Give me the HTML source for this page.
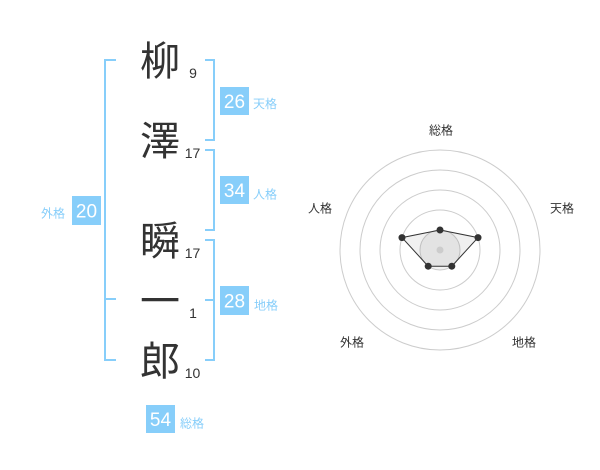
<!DOCTYPE html>
<html>
<head>
<meta charset="utf-8">
<style>
  html, body { margin:0; padding:0; background:#fff; }
  body { width:600px; height:470px; overflow:hidden; }
  svg { display:block; }
  .cjk { font-family: "Liberation Sans", "Noto Sans CJK JP", sans-serif; }
  .num { font-family: "Liberation Sans", sans-serif; }
</style>
</head>
<body>
<svg width="600" height="470" viewBox="0 0 600 470" xmlns="http://www.w3.org/2000/svg">
  <!-- brackets -->
  <g fill="none" stroke="#87cefa" stroke-width="2">
    <path d="M116,60 H105 V360 H116"/>
    <path d="M105,299 H116"/>
    <path d="M205,60 H214 V140 H205"/>
    <path d="M205,150 H214 V230 H205"/>
    <path d="M205,240 H214 V360 H205"/>
    <path d="M205,300 H214"/>
  </g>

  <!-- name characters -->
  <g class="cjk" font-size="40" fill="#333" text-anchor="middle">
    <text x="160" y="75">柳</text>
    <text x="160" y="155">澤</text>
    <text x="160" y="255">瞬</text>
    <text x="160" y="315">一</text>
    <text x="160" y="375">郎</text>
  </g>
  <g class="num" font-size="14" fill="#333" text-anchor="middle">
    <text x="193" y="78">9</text>
    <text x="192.5" y="158">17</text>
    <text x="192.5" y="258">17</text>
    <text x="193" y="318">1</text>
    <text x="192.5" y="378">10</text>
  </g>

  <!-- boxes -->
  <g fill="#87cefa">
    <rect x="220" y="87" width="29" height="28"/>
    <rect x="220" y="176" width="29" height="28"/>
    <rect x="220" y="286" width="29" height="29"/>
    <rect x="72" y="196" width="29" height="29"/>
    <rect x="146" y="405" width="29" height="28"/>
  </g>
  <g class="num" font-size="19" fill="#fff" text-anchor="middle">
    <text x="234.5" y="108">26</text>
    <text x="234.5" y="197">34</text>
    <text x="234.5" y="307.5">28</text>
    <text x="86.5" y="217.5">20</text>
    <text x="160.5" y="426">54</text>
  </g>
  <g class="cjk" font-size="12" fill="#87cefa">
    <text x="253" y="108">天格</text>
    <text x="253" y="198.5">人格</text>
    <text x="254" y="309.5">地格</text>
    <text x="41" y="217.5">外格</text>
    <text x="180" y="427.5">総格</text>
  </g>

  <!-- radar -->
  <g fill="none" stroke="#cccccc" stroke-width="1">
    <circle cx="440" cy="250" r="100"/>
    <circle cx="440" cy="250" r="80"/>
    <circle cx="440" cy="250" r="60"/>
    <circle cx="440" cy="250" r="40"/>
  </g>
  <circle cx="440" cy="250" r="20" fill="#f2f2f2" stroke="#cccccc" stroke-width="1"/>
  <polygon points="440,230 478,237.6 451.8,266.2 428.2,266.2 402,237.6" fill="rgba(0,0,0,0.06)" stroke="#333" stroke-width="1"/>
  <circle cx="440" cy="250" r="3.5" fill="#cccccc"/>
  <g fill="#333">
    <circle cx="440" cy="230" r="3.5"/>
    <circle cx="478" cy="237.6" r="3.5"/>
    <circle cx="451.8" cy="266.2" r="3.5"/>
    <circle cx="428.2" cy="266.2" r="3.5"/>
    <circle cx="402" cy="237.6" r="3.5"/>
  </g>
  <g class="cjk" font-size="12" fill="#333" text-anchor="middle">
    <text x="441" y="134.5">総格</text>
    <text x="562" y="212.5">天格</text>
    <text x="320" y="212.5">人格</text>
    <text x="352" y="346.5">外格</text>
    <text x="524" y="346.5">地格</text>
  </g>
</svg>
</body>
</html>
